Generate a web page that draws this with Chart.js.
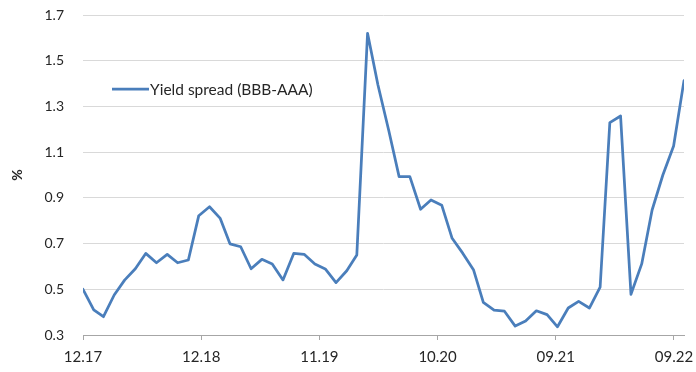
<!DOCTYPE html>
<html>
<head>
<meta charset="utf-8">
<title>Yield spread (BBB-AAA)</title>
<script src="https://cdn.jsdelivr.net/npm/chart.js@4.4.1/dist/chart.umd.min.js"></script>
<style>
  html, body { margin: 0; padding: 0; background: #ffffff; }
  #wrap { width: 696px; height: 372px; }
</style>
</head>
<body>
<div id="wrap"><canvas id="chart" width="696" height="372"></canvas></div>
<script>
// Month-end observations, Dec 2017 to Sep 2022
const months = [
  '2017-12',
  '2018-01','2018-02','2018-03','2018-04','2018-05','2018-06','2018-07','2018-08','2018-09','2018-10','2018-11','2018-12',
  '2019-01','2019-02','2019-03','2019-04','2019-05','2019-06','2019-07','2019-08','2019-09','2019-10','2019-11','2019-12',
  '2020-01','2020-02','2020-03','2020-04','2020-05','2020-06','2020-07','2020-08','2020-09','2020-10','2020-11','2020-12',
  '2021-01','2021-02','2021-03','2021-04','2021-05','2021-06','2021-07','2021-08','2021-09','2021-10','2021-11','2021-12',
  '2022-01','2022-02','2022-03','2022-04','2022-05','2022-06','2022-07','2022-08','2022-09'
];

// BBB minus AAA corporate yield spread, percentage points
const spread = [
  0.50,
  0.41, 0.38, 0.475, 0.54, 0.59, 0.657, 0.616, 0.653, 0.616, 0.628, 0.822, 0.861,
  0.81, 0.699, 0.686, 0.59, 0.631, 0.611, 0.541, 0.657, 0.653, 0.611, 0.589, 0.529,
  0.581, 0.65, 1.62, 1.394, 1.196, 0.993, 0.993, 0.85, 0.891, 0.868, 0.723, 0.657,
  0.584, 0.443, 0.409, 0.404, 0.339, 0.361, 0.406, 0.389, 0.336, 0.418, 0.447, 0.418,
  0.509, 1.229, 1.258, 0.478, 0.611, 0.847, 1.0, 1.127, 1.413
];

// Date axis: a label every 341 days from the first observation
const tickLabels = ['12.17', '12.18', '11.19', '10.20', '09.21', '09.22'];
const tickStepDays = 341;

const seriesName = 'Yield spread (BBB-AAA)';
const yMin = 0.3, yMax = 1.7, yStep = 0.2;

const DAY = 86400000;
function monthEnd(ym) {
  const [y, m] = ym.split('-').map(Number);
  return Date.UTC(y, m, 0);
}
const t0 = monthEnd(months[0]);
const dayOffsets = months.map(ym => Math.round((monthEnd(ym) - t0) / DAY));
const points = months.map((ym, i) => ({ x: dayOffsets[i], y: spread[i] }));

const FONT = 'Lato, "Liberation Sans", Arial, sans-serif';
const TEXT = '#262626';

// Legend drawn inside the plot area: line sample followed by the series name
const insideLegend = {
  id: 'insideLegend',
  afterDatasetsDraw(chart, args, opts) {
    const ds = chart.data.datasets[0];
    const ctx = chart.ctx;
    ctx.save();
    ctx.strokeStyle = ds.borderColor;
    ctx.lineWidth = ds.borderWidth;
    ctx.beginPath();
    ctx.moveTo(opts.x, opts.y);
    ctx.lineTo(opts.x + opts.sample, opts.y);
    ctx.stroke();
    ctx.fillStyle = TEXT;
    ctx.font = opts.fontSize + 'px ' + FONT;
    ctx.textBaseline = 'middle';
    ctx.textAlign = 'left';
    ctx.fillText(ds.label, opts.x + opts.sample + opts.gap, opts.y + 1);
    ctx.restore();
  }
};

new Chart(document.getElementById('chart'), {
  type: 'line',
  data: {
    datasets: [{
      label: seriesName,
      data: points,
      borderColor: '#4a7ebb',
      borderWidth: 2.75,
      borderJoinStyle: 'round',
      borderCapStyle: 'round',
      pointRadius: 0,
      tension: 0,
      fill: false
    }]
  },
  options: {
    responsive: false,
    animation: false,
    layout: { padding: { top: 15, right: 12, left: 0, bottom: 0 } },
    plugins: {
      legend: { display: false },
      tooltip: { enabled: false },
      insideLegend: { x: 112, y: 89, sample: 37, gap: 1, fontSize: 15.5 }
    },
    scales: {
      x: {
        type: 'linear',
        min: 0,
        max: dayOffsets[dayOffsets.length - 1],
        afterBuildTicks(scale) {
          scale.ticks = tickLabels.map((_, k) => ({ value: k * tickStepDays }));
        },
        afterFit(scale) {
          scale.height = 37;
          scale.paddingLeft = 0;
          scale.paddingRight = 0;
        },
        grid: {
          drawOnChartArea: false,
          drawTicks: true,
          tickLength: 5,
          color: '#a6a6a6'
        },
        border: { display: true, color: '#a6a6a6', width: 1 },
        ticks: {
          autoSkip: false,
          maxRotation: 0,
          padding: 8,
          color: TEXT,
          font: { family: FONT, size: 15 },
          callback(value, index) { return tickLabels[index]; }
        }
      },
      y: {
        min: yMin,
        max: yMax,
        afterFit(scale) {
          scale.width = 83;
          scale.paddingTop = 0;
          scale.paddingBottom = 0;
        },
        grid: { color: '#d9d9d9', lineWidth: 1, drawTicks: false },
        border: { display: false },
        ticks: {
          stepSize: yStep,
          padding: 19,
          color: TEXT,
          font: { family: FONT, size: 14 },
          callback(value) { return value.toFixed(1); }
        },
        title: {
          display: true,
          text: '%',
          color: TEXT,
          font: { family: FONT, size: 14, weight: 'bold' },
          padding: { top: 9, bottom: 0 }
        }
      }
    }
  },
  plugins: [insideLegend]
});
</script>
</body>
</html>
